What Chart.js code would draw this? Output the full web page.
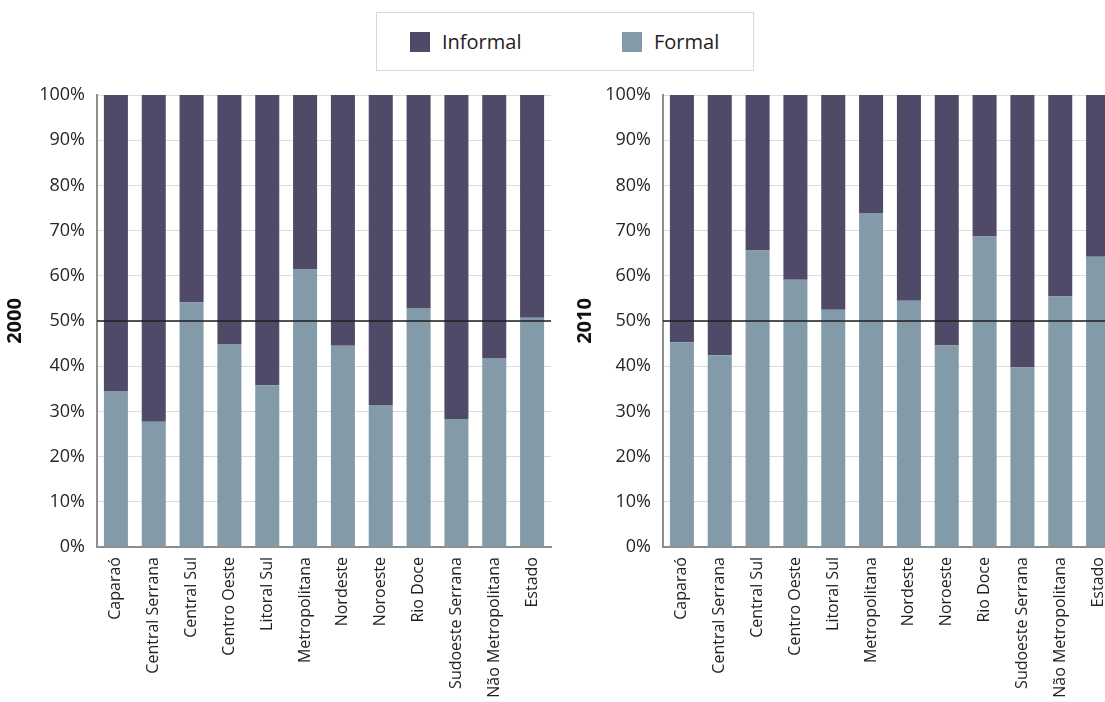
<!DOCTYPE html>
<html>
<head>
<meta charset="utf-8">
<script src="https://cdn.jsdelivr.net/npm/chart.js@4.4.1/dist/chart.umd.min.js"></script>
<style>
    html, body { margin: 0; padding: 0; background: #fff; overflow: hidden; }
    body { width: 1105px; height: 702px; position: relative; font-family: 'Open Sans', sans-serif; }
    .box { position: absolute; top: 0; height: 702px; }
    #wrap2000 { left: 0; width: 560px; }
    #wrap2010 { left: 570px; width: 560px; }
    #legend {
        position: absolute; left: 376px; top: 12px; width: 376px; height: 57px;
        border: 1px solid #d9d9d9; background: #fff; z-index: 2;
    }
    .item { position: absolute; top: 18px; font-size: 20px; color: #222; line-height: 22px; }
    .item span { display: inline-block; width: 20px; height: 20px; vertical-align: -3px; margin-right: 12px; }
</style>
</head>
<body>
<div id="legend">
    <div class="item" style="left:33px"><span style="background:#4f4a68"></span>Informal</div>
    <div class="item" style="left:245px"><span style="background:#839ba8"></span>Formal</div>
</div>
<div class="box" id="wrap2000"><canvas id="chart2000"></canvas></div>
<div class="box" id="wrap2010"><canvas id="chart2010"></canvas></div>
<script>
// Regiões
const regioes = ['Caparaó', 'Central Serrana', 'Central Sul', 'Centro Oeste', 'Litoral Sul', 'Metropolitana',
    'Nordeste', 'Noroeste', 'Rio Doce', 'Sudoeste Serrana', 'Não Metropolitana', 'Estado'];

// Participação formal (%)
const formal2000 = [34.5, 27.7, 54.1, 44.9, 35.8, 61.4, 44.5, 31.4, 52.9, 28.3, 41.8, 50.7];
const formal2010 = [45.3, 42.4, 65.6, 59.1, 52.5, 73.9, 54.5, 44.6, 68.7, 39.7, 55.4, 64.2];

// Informal = restante
const informal2000 = formal2000.map(v => +(100 - v).toFixed(1));
const informal2010 = formal2010.map(v => +(100 - v).toFixed(1));

const yTicks = [0, 10, 20, 30, 40, 50, 60, 70, 80, 90, 100];
const linhaReferencia = 50;

// linha preta em 50%
const linha50 = {
    id: 'linha50',
    afterDatasetsDraw(chart) {
        const ctx = chart.ctx;
        const y = chart.scales.y.getPixelForValue(linhaReferencia);
        ctx.save();
        ctx.strokeStyle = '#1e1e1e';
        ctx.lineWidth = 1.6;
        ctx.beginPath();
        ctx.moveTo(chart.chartArea.left, y);
        ctx.lineTo(chart.chartArea.right, y);
        ctx.stroke();
        ctx.restore();
    }
};

function criarGrafico(id, ano, formal, informal, yWidth, padRight) {
    return new Chart(document.getElementById(id), {
        type: 'bar',
        data: {
            labels: regioes,
            datasets: [
                {
                    label: 'Formal',
                    data: formal,
                    backgroundColor: '#839ba8',
                    categoryPercentage: 1,
                    barPercentage: 0.635
                },
                {
                    label: 'Informal',
                    data: informal,
                    backgroundColor: '#4f4a68',
                    categoryPercentage: 1,
                    barPercentage: 0.635
                }
            ]
        },
        options: {
            responsive: true,
            maintainAspectRatio: false,
            animation: false,
            layout: {
                padding: { top: 95, right: padRight, left: 0, bottom: 0 }
            },
            plugins: {
                legend: { display: false },
                tooltip: { enabled: false }
            },
            scales: {
                x: {
                    stacked: true,
                    grid: { display: false },
                    border: { color: '#8e8e8e', width: 2 },
                    ticks: {
                        autoSkip: false,
                        minRotation: 90,
                        maxRotation: 90,
                        color: '#222',
                        padding: 2,
                        font: { family: 'Open Sans', size: 16 }
                    },
                    afterFit(scale) { scale.height = 155; }
                },
                y: {
                    stacked: true,
                    min: 0,
                    max: 100,
                    afterBuildTicks(scale) { scale.ticks = yTicks.map(v => ({ value: v })); },
                    grid: { color: '#dcdcdc', lineWidth: 1, drawTicks: false },
                    border: { color: '#8e8e8e', width: 2 },
                    ticks: {
                        color: '#262626',
                        padding: 12,
                        font: { family: 'Open Sans', size: 18 },
                        callback: v => v + '%'
                    },
                    title: {
                        display: true,
                        text: ano,
                        color: '#111',
                        padding: { top: 3, bottom: 0 },
                        font: { family: 'Open Sans', size: 20, weight: 'bold' }
                    },
                    afterFit(scale) { scale.width = yWidth; }
                }
            }
        },
        plugins: [linha50]
    });
}

criarGrafico('chart2000', '2000', formal2000, informal2000, 97, 9);
criarGrafico('chart2010', '2010', formal2010, informal2010, 93, 13);
</script>
</body>
</html>
